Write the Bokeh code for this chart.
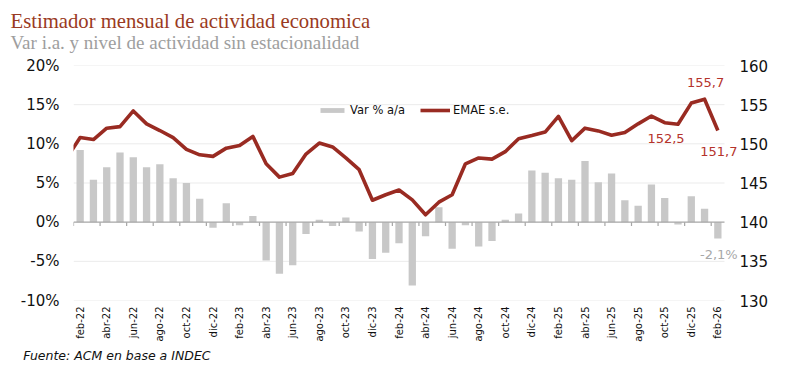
from bokeh.plotting import figure
from bokeh.models import (Range1d, LinearAxis, FixedTicker, PrintfTickFormatter,
                          Label, Legend, LegendItem, Title)
from bokeh.embed import file_html
from bokeh.resources import INLINE
import math

# ---------------- data ----------------
months = ["feb-22", "mar-22", "abr-22", "may-22", "jun-22", "jul-22", "ago-22", "sep-22", "oct-22", "nov-22", "dic-22",
          "ene-23", "feb-23", "mar-23", "abr-23", "may-23", "jun-23", "jul-23", "ago-23", "sep-23", "oct-23", "nov-23", "dic-23",
          "ene-24", "feb-24", "mar-24", "abr-24", "may-24", "jun-24", "jul-24", "ago-24", "sep-24", "oct-24", "nov-24", "dic-24",
          "ene-25", "feb-25", "mar-25", "abr-25", "may-25", "jun-25", "jul-25", "ago-25", "sep-25", "oct-25", "nov-25", "dic-25",
          "ene-26", "feb-26"]

var_ia = [9.2, 5.4, 7.0, 8.9, 8.3, 7.0, 7.4, 5.6, 5.0, 3.0, -0.7,
          2.4, -0.4, 0.8, -4.9, -6.6, -5.5, -1.5, 0.3, -0.5, 0.6, -1.2, -4.7,
          -3.9, -2.7, -8.1, -1.8, 1.9, -3.4, -0.4, -3.1, -2.4, 0.3, 1.1, 6.6,
          6.3, 5.6, 5.4, 7.8, 5.1, 6.2, 2.8, 2.1, 4.8, 3.1, -0.3, 3.3,
          1.7, -2.1]

# EMAE desestacionalizado; first value (ene-22) lies just left of the frame
emae_prev = 148.2
emae = [150.8, 150.55, 152.0, 152.2, 154.2, 152.55, 151.7, 150.8, 149.3, 148.6, 148.4,
        149.45, 149.8, 150.95, 147.45, 145.75, 146.2, 148.7, 150.1, 149.6, 148.2, 146.7, 142.8,
        143.5, 144.1, 142.85, 140.95, 142.55, 143.5, 147.45, 148.2, 148.05, 149.0, 150.65, 151.05,
        151.5, 153.5, 150.4, 152.0, 151.65, 151.1, 151.45, 152.55, 153.55, 152.7, 152.5, 155.2,
        155.7, 151.7]

left_ticks = [-10, -5, 0, 5, 10, 15, 20]
right_ticks = [130, 135, 140, 145, 150, 155, 160]

title = "Estimador mensual de actividad economica"
subtitle = "Var i.a. y nivel de actividad  sin estacionalidad"
source_txt = "Fuente: ACM en base a INDEC"

# ---------------- styles ----------------
BAR = "#C8C8C8"
LINE = "#992B22"
LBL_RED = "#B5332B"
GRID = "#EBEBEB"
AXIS_GRAY = "#A6A6A6"
SANS = "DejaVu Sans"
SERIF = "Liberation Serif"

W, H = 798, 382
FL, FT, FB = 73, 65, 300     # frame left / top / bottom on the canvas
PLOT_R = 724                 # right end of the plotting area (gridlines)
FR = 738                     # frame right (extra room so end labels are not clipped)
n = len(months)
xs = list(range(n))
cat_px = (PLOT_R - FL) / n
x_end = n - 0.5 + (FR - PLOT_R) / cat_px

p = figure(width=W, height=H, output_backend="svg", toolbar_location=None,
           x_range=Range1d(-0.5, x_end), y_range=Range1d(left_ticks[0], left_ticks[-1]),
           min_border_left=FL, min_border_right=W - FR, min_border_top=FT, min_border_bottom=H - FB)
p.outline_line_color = None
p.background_fill_color = "white"
p.extra_y_ranges = {"emae": Range1d(right_ticks[0], right_ticks[-1])}
p.xgrid.visible = False
p.ygrid.visible = False

# horizontal gridlines limited to the category span
grid_y = [t for t in left_ticks if t != 0]
p.segment(x0=[-0.5] * len(grid_y), x1=[n - 0.5] * len(grid_y), y0=grid_y, y1=grid_y,
          line_color=GRID, line_width=1)

def style_axis(ax, standoff, size):
    ax.axis_line_color = None
    ax.major_tick_line_color = None
    ax.minor_tick_line_color = None
    ax.major_tick_out = 0
    ax.major_tick_in = 0
    ax.minor_tick_out = 0
    ax.minor_tick_in = 0
    ax.major_label_standoff = standoff
    ax.major_label_text_font = SANS
    ax.major_label_text_font_size = size
    ax.major_label_text_color = "#111111"

# left axis
ya = p.yaxis[0]
ya.ticker = FixedTicker(ticks=left_ticks)
ya.formatter = PrintfTickFormatter(format="%d%%")
style_axis(ya, 14, "15px")

# right axis
ra = LinearAxis(y_range_name="emae", ticker=FixedTicker(ticks=right_ticks))
style_axis(ra, 1, "15px")
p.add_layout(ra, "right")

# bottom axis (labels only)
xa = p.xaxis[0]
tick_idx = xs[::2]
xa.ticker = FixedTicker(ticks=tick_idx)
xa.major_label_overrides = {i: months[i] for i in tick_idx}
xa.major_label_orientation = math.pi / 2
style_axis(xa, 6, "10px")

# bars
bars = p.vbar(x=xs, top=var_ia, width=0.55, fill_color=BAR, line_color=None)

# zero line with category tick marks
p.segment(x0=[-0.5], x1=[n - 0.5], y0=[0], y1=[0], line_color=AXIS_GRAY, line_width=1.2)
tick_x = [i - 0.5 for i in tick_idx]
p.segment(x0=tick_x, x1=tick_x, y0=[0] * len(tick_x), y1=[-0.5] * len(tick_x),
          line_color=AXIS_GRAY, line_width=1.2)

# EMAE line
line_x = [-1] + xs
line_y = [emae_prev] + emae
ln = p.line(x=line_x, y=line_y, y_range_name="emae", line_color=LINE, line_width=3.6,
            line_join="round")

# data labels
def fmt(v, pct=False):
    s = f"{v:.1f}".replace(".", ",")
    return s + ("%" if pct else "")

line_labels = [(45, -12, 14), (47, 1, -17), (48, 1, 21)]   # (index, dx, dy) px, dy>0 = down
for idx, dx, dy in line_labels:
    p.add_layout(Label(x=xs[idx], y=emae[idx], y_range_name="emae", text=fmt(emae[idx]),
                       x_offset=dx, y_offset=-dy, text_align="center", text_baseline="middle",
                       text_color=LBL_RED, text_font=SANS, text_font_size="13px"))

last = n - 1
p.add_layout(Label(x=xs[last], y=var_ia[last], text=fmt(var_ia[last], pct=True),
                   x_offset=1, y_offset=-16, text_align="center", text_baseline="middle",
                   text_color="#A8A8A8", text_font=SANS, text_font_size="13px"))

# legend
legend = Legend(items=[LegendItem(label="Var % a/a", renderers=[bars]),
                       LegendItem(label="EMAE s.e.", renderers=[ln])],
                orientation="horizontal", location=(244, 183),
                border_line_color=None, background_fill_alpha=0,
                padding=0, margin=0, spacing=15, label_standoff=3,
                glyph_width=30, glyph_height=6, label_height=14,
                label_text_font=SANS, label_text_font_size="11.5px",
                label_text_color="#111111")
p.add_layout(legend, "center")

# titles (side panels, stacked outward from the frame) and source note
p.add_layout(Title(text=subtitle, align="left", offset=10 - FL, standoff=26,
                   text_font=SERIF, text_font_size="19px", text_font_style="normal",
                   text_color="#9E9E9E"), "above")
p.add_layout(Title(text=title, align="left", offset=10 - FL, standoff=-30,
                   text_font=SERIF, text_font_size="20.7px", text_font_style="normal",
                   text_color="#9A3A22"), "above")
p.add_layout(Title(text=source_txt, align="left", offset=22.7 - FL, standoff=2,
                   text_font=SANS, text_font_size="12.5px", text_font_style="italic",
                   text_color="#111111"), "below")

open("out.html", "w").write(file_html(p, INLINE))
